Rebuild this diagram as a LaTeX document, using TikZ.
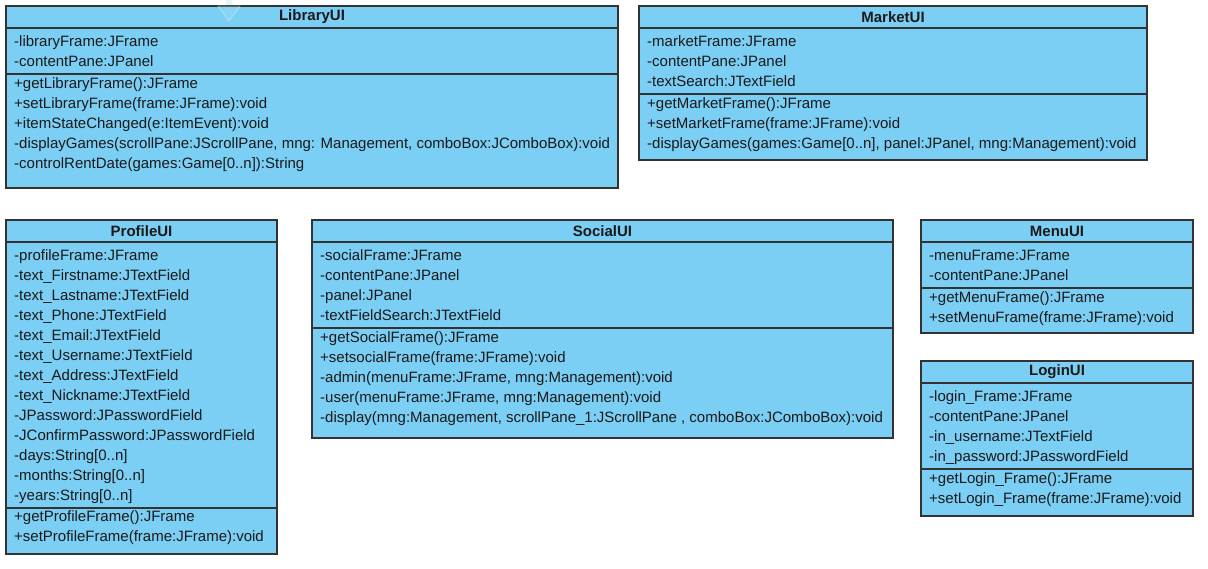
\documentclass[tikz,border=0pt]{standalone}
\usepackage{fontspec}
\setmainfont{Liberation Sans}
\usetikzlibrary{positioning}

\definecolor{umlfill}{RGB}{123,206,244}
\definecolor{umlline}{RGB}{51,51,51}
\definecolor{umltext}{RGB}{26,26,26}

\begin{document}
\begin{tikzpicture}[x=1pt, y=-1pt,
    head/.style={rectangle, draw=umlline, fill=umlfill, line width=1.3pt, inner sep=0pt,
        outer sep=0pt, anchor=north west, minimum height=22, text=umltext,
        font=\fontsize{15}{20}\selectfont\bfseries},
    part/.style={rectangle, draw=umlline, fill=umlfill, line width=1.3pt, inner sep=0pt,
        outer sep=0pt, anchor=north west},
    row/.style={anchor=base west, inner sep=0pt, text=umltext,
        font=\fontsize{15}{20}\selectfont}
]
    \useasboundingbox (0,0) rectangle (1208,568);

    % LibraryUI
    \node[head, minimum width=612] (library) at (6,6) {LibraryUI};
    \node[part, minimum width=612, minimum height=46] (library-attr) at (library.south west) {};
    \node[part, minimum width=612, minimum height=114] (library-ops) at (library-attr.south west) {};
    \foreach \t [count=\i from 0] in {-libraryFrame:JFrame, -contentPane:JPanel}
        \node[row] (library-attr-\i) at ([xshift=8, yshift=-18-20*\i]library-attr.north west) {\t};
    \foreach \t [count=\i from 0] in {+getLibraryFrame():JFrame, +setLibraryFrame(frame:JFrame):void,
        +itemStateChanged(e:ItemEvent):void,
        {-displayGames(scrollPane:JScrollPane, mng: Management, comboBox:JComboBox):void},
        {-controlRentDate(games:Game[0..n]):String}}
        \node[row] (library-ops-\i) at ([xshift=8, yshift=-14.5-20*\i]library-ops.north west) {\t};

    % MarketUI
    \node[head, minimum width=508] (market) at (639,6) {MarketUI};
    \node[part, minimum width=508, minimum height=66] (market-attr) at (market.south west) {};
    \node[part, minimum width=508, minimum height=66] (market-ops) at (market-attr.south west) {};
    \foreach \t [count=\i from 0] in {-marketFrame:JFrame, -contentPane:JPanel, -textSearch:JTextField}
        \node[row] (market-attr-\i) at ([xshift=8, yshift=-18-20*\i]market-attr.north west) {\t};
    \foreach \t [count=\i from 0] in {+getMarketFrame():JFrame, +setMarketFrame(frame:JFrame):void,
        {-displayGames(games:Game[0..n], panel:JPanel, mng:Management):void}}
        \node[row] (market-ops-\i) at ([xshift=8, yshift=-14.5-20*\i]market-ops.north west) {\t};

    % ProfileUI
    \node[head, minimum width=271] (profile) at (6,220) {ProfileUI};
    \node[part, minimum width=271, minimum height=266] (profile-attr) at (profile.south west) {};
    \node[part, minimum width=271, minimum height=46] (profile-ops) at (profile-attr.south west) {};
    \foreach \t [count=\i from 0] in {-profileFrame:JFrame, -text\_Firstname:JTextField,
        -text\_Lastname:JTextField, -text\_Phone:JTextField, -text\_Email:JTextField,
        -text\_Username:JTextField, -text\_Address:JTextField, -text\_Nickname:JTextField,
        -JPassword:JPasswordField, -JConfirmPassword:JPasswordField,
        {-days:String[0..n]}, {-months:String[0..n]}, {-years:String[0..n]}}
        \node[row] (profile-attr-\i) at ([xshift=8, yshift=-18-20*\i]profile-attr.north west) {\t};
    \foreach \t [count=\i from 0] in {+getProfileFrame():JFrame, +setProfileFrame(frame:JFrame):void}
        \node[row] (profile-ops-\i) at ([xshift=8, yshift=-13.5-20*\i]profile-ops.north west) {\t};

    % SocialUI
    \node[head, minimum width=581] (social) at (312,220) {SocialUI};
    \node[part, minimum width=581, minimum height=86] (social-attr) at (social.south west) {};
    \node[part, minimum width=581, minimum height=110] (social-ops) at (social-attr.south west) {};
    \foreach \t [count=\i from 0] in {-socialFrame:JFrame, -contentPane:JPanel, -panel:JPanel,
        -textFieldSearch:JTextField}
        \node[row] (social-attr-\i) at ([xshift=8, yshift=-18-20*\i]social-attr.north west) {\t};
    \foreach \t [count=\i from 0] in {+getSocialFrame():JFrame, +setsocialFrame(frame:JFrame):void,
        {-admin(menuFrame:JFrame, mng:Management):void},
        {-user(menuFrame:JFrame, mng:Management):void},
        {-display(mng:Management, scrollPane\_1:JScrollPane , comboBox:JComboBox):void}}
        \node[row] (social-ops-\i) at ([xshift=8, yshift=-14.5-20*\i]social-ops.north west) {\t};

    % MenuUI
    \node[head, minimum width=272] (menu) at (921,220) {MenuUI};
    \node[part, minimum width=272, minimum height=46] (menu-attr) at (menu.south west) {};
    \node[part, minimum width=272, minimum height=45] (menu-ops) at (menu-attr.south west) {};
    \foreach \t [count=\i from 0] in {-menuFrame:JFrame, -contentPane:JPanel}
        \node[row] (menu-attr-\i) at ([xshift=8, yshift=-18-20*\i]menu-attr.north west) {\t};
    \foreach \t [count=\i from 0] in {+getMenuFrame():JFrame, +setMenuFrame(frame:JFrame):void}
        \node[row] (menu-ops-\i) at ([xshift=8, yshift=-14-20*\i]menu-ops.north west) {\t};

    % LoginUI
    \node[head, minimum width=272] (login) at (921,361) {LoginUI};
    \node[part, minimum width=272, minimum height=86] (login-attr) at (login.south west) {};
    \node[part, minimum width=272, minimum height=47] (login-ops) at (login-attr.south west) {};
    \foreach \t [count=\i from 0] in {-login\_Frame:JFrame, -contentPane:JPanel,
        -in\_username:JTextField, -in\_password:JPasswordField}
        \node[row] (login-attr-\i) at ([xshift=8, yshift=-18-20*\i]login-attr.north west) {\t};
    \foreach \t [count=\i from 0] in {+getLogin\_Frame():JFrame, +setLogin\_Frame(frame:JFrame):void}
        \node[row] (login-ops-\i) at ([xshift=8, yshift=-14.5-20*\i]login-ops.north west) {\t};

    % faint hover arrow above LibraryUI
    \fill[umlfill!20] (226,0) rectangle (232,5.3);
    \filldraw[fill=white, fill opacity=0.12, draw=white, draw opacity=0.35, line width=0.8pt]
        (218,6) -- (240,6) -- (229,21) -- cycle;
\end{tikzpicture}
\end{document}
